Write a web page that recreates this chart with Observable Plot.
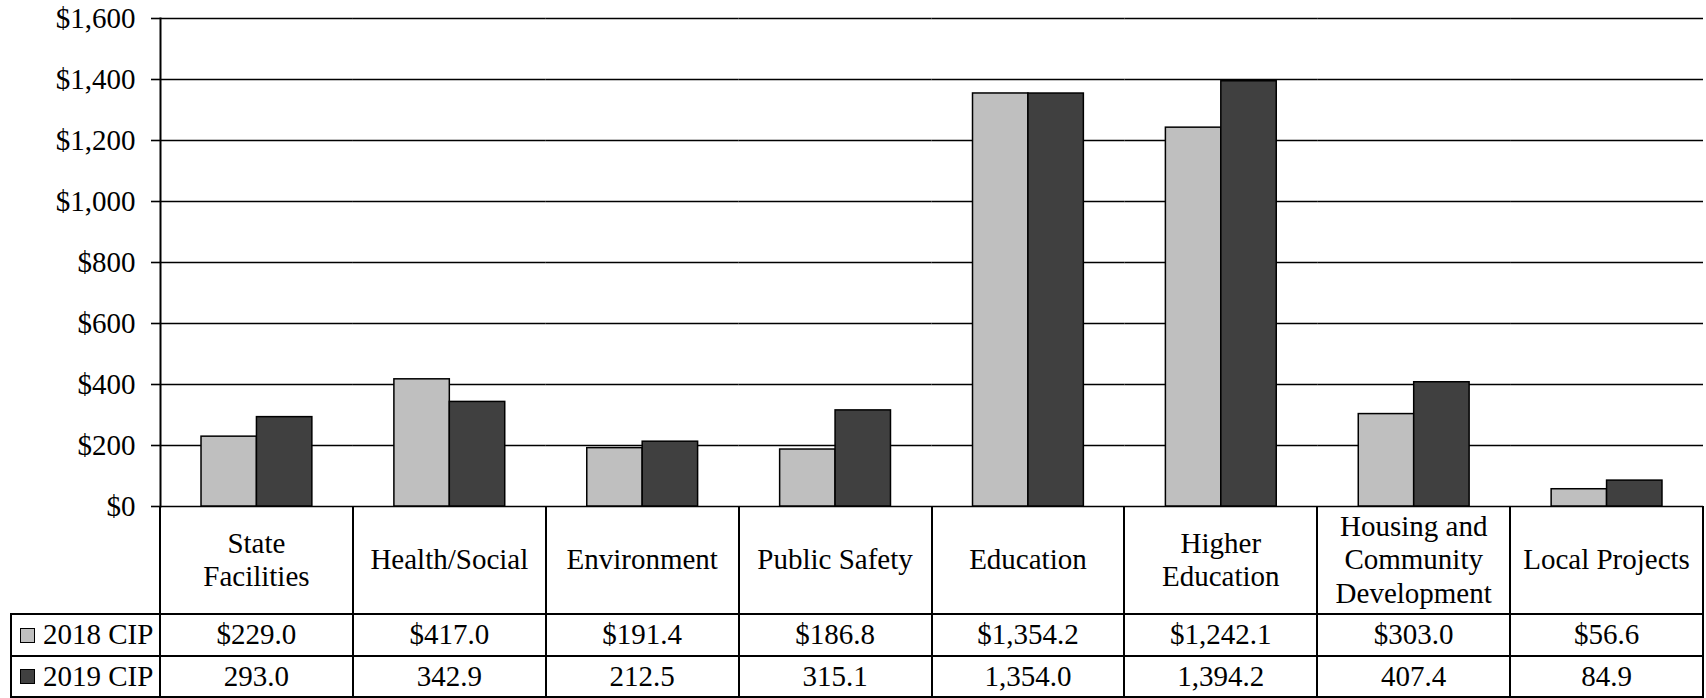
<!DOCTYPE html>
<html>
<head>
<meta charset="utf-8">
<script src="https://cdn.jsdelivr.net/npm/d3@7"></script>
<script src="https://cdn.jsdelivr.net/npm/@observablehq/plot@0.6"></script>
<style>
  html, body { margin: 0; padding: 0; background: #fff; overflow: hidden; }
  #wrap { position: relative; width: 1706px; height: 698px; font-family: "Liberation Serif", "Times New Roman", serif; color: #000; }
  #wrap svg { overflow: visible; }
  .ln { position: absolute; background: #000; }
  .cell { position: absolute; display: flex; align-items: center; justify-content: center; text-align: center; font-size: 29px; line-height: 33.5px; white-space: pre; }
  .leg { position: absolute; display: flex; align-items: center; font-size: 29px; line-height: 33.5px; white-space: pre; }
  .sw { display: inline-block; width: 13px; height: 13px; border: 1px solid #000; margin-right: 8px; }
</style>
</head>
<body>
<div id="wrap"></div>
<script>
// ---- data ----
const categories = ["State Facilities", "Health/Social", "Environment", "Public Safety", "Education", "Higher Education", "Housing and Community Development", "Local Projects"];
const categoryLabels = ["State\nFacilities", "Health/Social", "Environment", "Public Safety", "Education", "Higher\nEducation", "Housing and\nCommunity\nDevelopment", "Local Projects"];
const series = ["2018 CIP", "2019 CIP"];
const values2018 = [229.0, 417.0, 191.4, 186.8, 1354.2, 1242.1, 303.0, 56.6];
const values2019 = [293.0, 342.9, 212.5, 315.1, 1354.0, 1394.2, 407.4, 84.9];
const tableText2018 = ["$229.0", "$417.0", "$191.4", "$186.8", "$1,354.2", "$1,242.1", "$303.0", "$56.6"];
const tableText2019 = ["293.0", "342.9", "212.5", "315.1", "1,354.0", "1,394.2", "407.4", "84.9"];
const yTicks = [0, 200, 400, 600, 800, 1000, 1200, 1400, 1600];
const seriesColors = ["#bfbfbf", "#404040"];

const data = [];
categories.forEach((c, i) => {
  data.push({category: c, series: series[0], value: values2018[i]});
  data.push({category: c, series: series[1], value: values2019[i]});
});

const W = 1706, H = 520, mT = 18, mB = 14, mL = 160, mR = 3;

const chart = Plot.plot({
  width: W, height: H,
  marginLeft: mL, marginRight: mR, marginTop: mT, marginBottom: mB,
  style: {fontFamily: "'Liberation Serif', 'Times New Roman', serif", fontSize: "29px", color: "#000", background: "transparent", overflow: "visible"},
  fx: {domain: categories, padding: 0, round: false, axis: null, label: null},
  x: {domain: series, paddingInner: 0, paddingOuter: 0.74, round: false, axis: null, label: null},
  y: {domain: [0, 1600], axis: null, label: null},
  color: {domain: series, range: seriesColors},
  marks: [
    Plot.gridY(yTicks, {stroke: "#000", strokeOpacity: 1, strokeWidth: 1.6}),
    Plot.axisY(yTicks, {label: null, tickSize: 9, tickPadding: 16, strokeWidth: 1.6, fontSize: 29, tickFormat: d => "$" + d3.format(",")(d)}),
    Plot.frame({anchor: "left", facetAnchor: "left", stroke: "#000", strokeWidth: 2}),
    Plot.barY(data, {fx: "category", x: "series", y: "value", fill: "series", stroke: "#000", strokeWidth: 1.5})
  ]
});

const wrap = document.getElementById("wrap");
wrap.appendChild(chart);

// ---- data table beneath the chart, aligned to Plot's fx scale ----
const fx = chart.scale("fx");
const color = chart.scale("color");
const bw = fx.bandwidth;
const yTop = H - mB;          // $0 baseline
const yHead = yTop + 108;     // end of label row
const yR1 = yHead + 42;
const yR2 = yR1 + 41;
const xLeg = 11;
const xRight = W - mR;

function line(x, y, w, h) {
  const d = document.createElement("div");
  d.className = "ln";
  d.style.left = x + "px"; d.style.top = y + "px";
  d.style.width = w + "px"; d.style.height = h + "px";
  wrap.appendChild(d);
}
function cell(text, x, y, w, h) {
  const d = document.createElement("div");
  d.className = "cell";
  d.style.left = x + "px"; d.style.top = y + "px";
  d.style.width = w + "px"; d.style.height = h + "px";
  d.textContent = text;
  wrap.appendChild(d);
}

categories.forEach((c, i) => {
  const x0 = fx.apply(c);
  cell(categoryLabels[i], x0, yTop, bw, yHead - yTop);
  cell(tableText2018[i], x0, yHead, bw, yR1 - yHead);
  cell(tableText2019[i], x0, yR1, bw, yR2 - yR1);
  line(x0 - 1, yTop, 2, yR2 - yTop + 1);
});
line(xRight - 1, yTop, 2, yR2 - yTop + 1);
line(xLeg - 1, yHead, 2, yR2 - yHead + 1);
[yHead, yR1, yR2].forEach(y => line(xLeg - 1, y - 1, xRight - xLeg + 1, 2));

[[series[0], yHead, yR1], [series[1], yR1, yR2]].forEach(([s, y0, y1]) => {
  const d = document.createElement("div");
  d.className = "leg";
  d.style.left = (xLeg + 9) + "px"; d.style.top = y0 + "px";
  d.style.height = (y1 - y0) + "px";
  const sw = document.createElement("span");
  sw.className = "sw";
  sw.style.background = color.apply(s);
  d.appendChild(sw);
  d.appendChild(document.createTextNode(s));
  wrap.appendChild(d);
});
</script>
</body>
</html>
